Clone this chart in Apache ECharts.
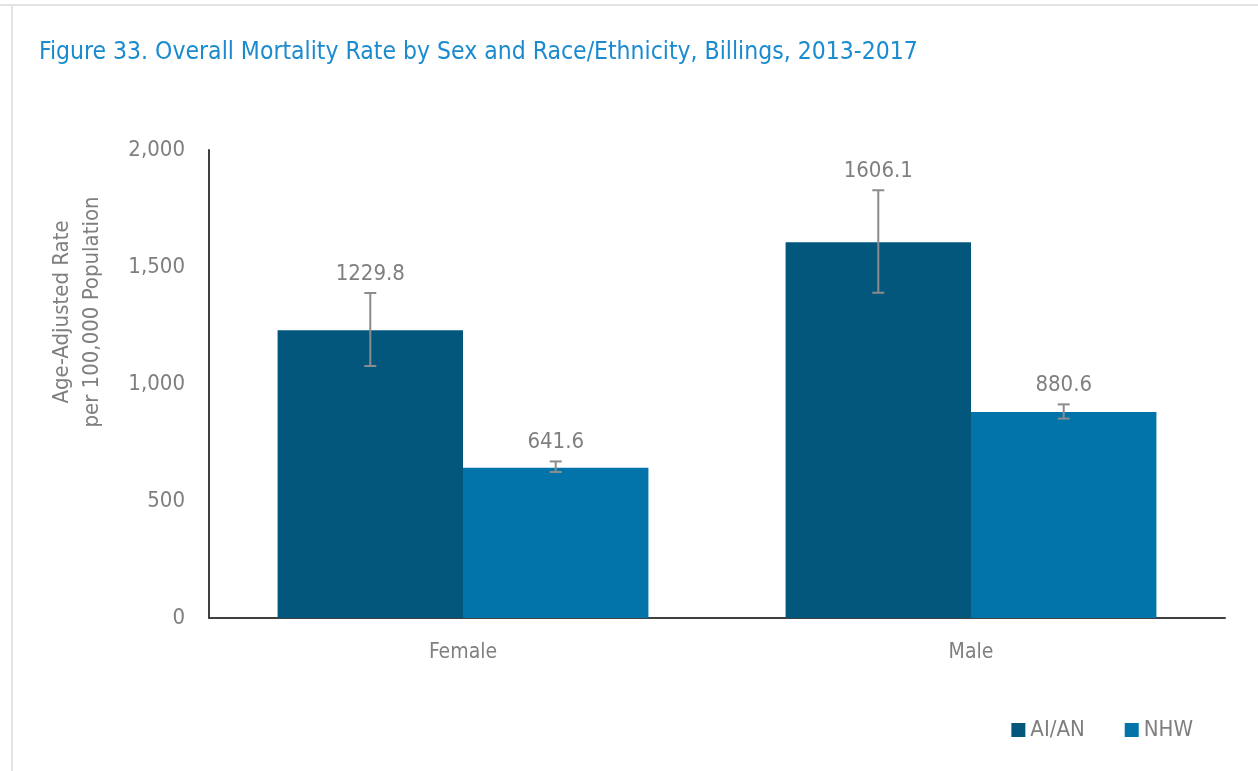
<!DOCTYPE html>
<html>
<head>
<meta charset="utf-8">
<script src="https://cdn.jsdelivr.net/npm/echarts@6/dist/echarts.min.js"></script>
<style>
  html, body { margin: 0; padding: 0; background: #ffffff; }
  #chart { width: 1258px; height: 771px; }
</style>
</head>
<body>
<div id="chart"></div>
<script>
// Age-adjusted overall mortality rate per 100,000, Billings, 2013-2017
const categories = ['Female', 'Male'];
const seriesNames = ['AI/AN', 'NHW'];
const aianRate = [1229.8, 1606.1];
const nhwRate = [641.6, 880.6];
// 95% confidence intervals [lower, upper]
const aianCI = [[1077, 1389], [1390, 1828]];
const nhwCI = [[624, 669], [852, 913]];
const yTicks = [0, 500, 1000, 1500, 2000];

const FONT = "'Liberation Sans Narrow', 'DejaVu Sans Condensed', 'Arial Narrow', sans-serif";
const TEXT_GREY = '#7f7f7f';
const COLORS = ['#03577c', '#0274a9'];
const BAR_GAP = '0%';
const CAT_GAP = '27%';

const chart = echarts.init(document.getElementById('chart'), null, { renderer: 'canvas' });

function errorSeries(name, ci, values, index) {
  const data = categories.map((c, i) => [i, ci[i][0], ci[i][1], values[i]]);
  return {
    name: name + ' CI',
    type: 'custom',
    z: 10,
    silent: true,
    data: data,
    renderItem: function (params, api) {
      const layout = api.barLayout({ barGap: BAR_GAP, barCategoryGap: CAT_GAP, count: 2 });
      const cat = api.value(0);
      const lo = api.coord([cat, api.value(1)]);
      const hi = api.coord([cat, api.value(2)]);
      const x = lo[0] + layout[index].offsetCenter;
      const half = 6;
      const style = { stroke: '#8c8c8c', lineWidth: 2 };
      return {
        type: 'group',
        children: [
          { type: 'line', shape: { x1: x, y1: lo[1], x2: x, y2: hi[1] }, style: style },
          { type: 'line', shape: { x1: x - half, y1: lo[1], x2: x + half, y2: lo[1] }, style: style },
          { type: 'line', shape: { x1: x - half, y1: hi[1], x2: x + half, y2: hi[1] }, style: style },
          {
            type: 'text',
            style: {
              x: x, y: hi[1] - 8,
              text: api.value(3).toFixed(1),
              fill: TEXT_GREY,
              font: '22px ' + FONT,
              textAlign: 'center',
              textVerticalAlign: 'bottom'
            }
          }
        ]
      };
    }
  };
}

chart.setOption({
  animation: false,
  backgroundColor: '#ffffff',
  title: {
    text: 'Figure 33. Overall Mortality Rate by Sex and Race/Ethnicity, Billings, 2013-2017',
    left: 34,
    top: 35,
    textStyle: { color: '#1b8bd0', fontSize: 24.5, fontWeight: 'normal', fontFamily: FONT }
  },
  legend: {
    data: seriesNames,
    right: 60,
    top: 714,
    itemWidth: 14,
    itemHeight: 14,
    itemGap: 40,
    icon: 'rect',
    textStyle: { color: TEXT_GREY, fontSize: 22, fontFamily: FONT }
  },
  grid: { left: 209, right: 33, top: 150, bottom: 153, containLabel: false },
  xAxis: {
    type: 'category',
    data: categories,
    axisLine: { lineStyle: { color: '#404040', width: 2 } },
    axisTick: { show: false },
    axisLabel: { color: TEXT_GREY, fontSize: 21, fontFamily: FONT, margin: 24 }
  },
  yAxis: {
    type: 'value',
    min: yTicks[0],
    max: yTicks[yTicks.length - 1],
    interval: 500,
    axisLine: { show: true, lineStyle: { color: '#404040', width: 2 } },
    axisTick: { show: false },
    splitLine: { show: false },
    axisLabel: {
      color: TEXT_GREY, fontSize: 22, fontFamily: FONT, margin: 24,
      formatter: v => v.toLocaleString('en-US')
    }
  },
  graphic: [
    { type: 'rect', shape: { x: 0, y: 4, width: 1258, height: 2 }, style: { fill: '#e3e3e3' }, silent: true },
    { type: 'rect', shape: { x: 11, y: 4, width: 2, height: 767 }, style: { fill: '#e3e3e3' }, silent: true },
    {
      type: 'text',
      x: 77,
      y: 312,
      rotation: Math.PI / 2,
      silent: true,
      style: {
        text: 'Age-Adjusted Rate\nper 100,000 Population',
        fill: TEXT_GREY,
        font: '22px ' + FONT,
        textAlign: 'center',
        textVerticalAlign: 'middle',
        lineHeight: 30
      }
    }
  ],
  series: [
    {
      name: seriesNames[0], type: 'bar', data: aianRate,
      barGap: BAR_GAP, barCategoryGap: CAT_GAP,
      itemStyle: { color: COLORS[0] }
    },
    {
      name: seriesNames[1], type: 'bar', data: nhwRate,
      barGap: BAR_GAP, barCategoryGap: CAT_GAP,
      itemStyle: { color: COLORS[1] }
    },
    errorSeries(seriesNames[0], aianCI, aianRate, 0),
    errorSeries(seriesNames[1], nhwCI, nhwRate, 1)
  ]
});
</script>
</body>
</html>
